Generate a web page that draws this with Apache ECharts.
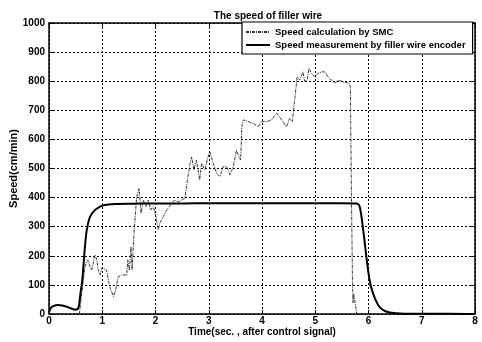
<!DOCTYPE html>
<html>
<head>
<meta charset="utf-8">
<script src="https://cdn.jsdelivr.net/npm/echarts@6/dist/echarts.min.js"></script>
<style>html,body{margin:0;padding:0;background:#fff}#c{width:482px;height:342px}</style>
</head>
<body>
<div id="c"></div>
<script>
const titleText = "The speed of filler wire";
const xName = "Time(sec. , after control signal)";
const yName = "Speed(cm/min)";
const seriesNames = ["Speed calculation by SMC", "Speed measurement by filler wire encoder"];

const smcTime = [0,0.57,0.675,0.73,0.77,0.80,0.83,0.86,0.895,0.925,0.96,0.99,1.08,1.14,1.21,1.25,1.30,1.36,1.46,1.48,1.51,1.54,1.56,1.60,1.645,1.69,1.73,1.77,1.82,1.865,1.91,1.96,2.01,2.05,2.08,2.145,2.21,2.26,2.30,2.36,2.43,2.49,2.55,2.61,2.65,2.68,2.72,2.77,2.83,2.865,2.93,2.97,3.02,3.08,3.15,3.21,3.27,3.34,3.40,3.46,3.52,3.57,3.60,3.62,3.65,3.74,3.835,3.93,3.99,4.085,4.18,4.275,4.37,4.46,4.52,4.57,4.62,4.66,4.71,4.77,4.80,4.85,4.88,4.93,4.99,5.05,5.12,5.18,5.24,5.30,5.37,5.43,5.46,5.52,5.585,5.635,5.66,5.68,5.70,5.71,5.72,5.74,5.76,5.78,8];
const smcSpeed = [0,0,163,186,163,151,174,203,189,151,134,158,151,94,60,82,128,134,134,186,150,231,151,289,400,432,346,392,369,392,357,369,334,289,312,334,357,369,380,392,385,392,398,472,518,540,495,529,460,518,495,529,558,520,483,472,506,506,478,506,563,540,529,643,667,661,655,643,661,661,667,690,667,643,672,661,747,815,804,832,800,804,844,827,815,827,832,832,815,804,793,804,806,798,795,793,780,400,100,38,70,50,25,0,0];

const encTime = [0,0.03,0.08,0.17,0.25,0.33,0.42,0.49,0.55,0.59,0.625,0.675,0.71,0.77,0.86,0.95,1.02,1.24,1.6,2.0,2.5,3.0,3.5,4.0,4.5,5.0,5.5,5.78,5.835,5.90,5.96,6.02,6.085,6.18,6.27,6.4,6.6,7.0,7.5,8.0];
const encSpeed = [5,20,27,31,29,25,19,15,20,70,117,231,289,334,357,368,374,378,379,380,380,381,381,381,381,381,381,380,369,289,197,117,71,31,14,5,2,1,1,0];

const zip = (a, b) => a.map((v, i) => [v, b[i]]);
const font = "Liberation Sans, Arial, sans-serif";
const gridStyle = {color: '#000', type: [2, 2], width: 1};

const chart = echarts.init(document.getElementById('c'), null, {renderer: 'canvas'});
chart.setOption({
  animation: false,
  backgroundColor: '#fff',
  title: {
    text: titleText, left: 263, top: 6, textAlign: 'center',
    textStyle: {fontFamily: font, fontSize: 10, fontWeight: 'bold', color: '#000'}
  },
  legend: {
    orient: 'vertical', left: 242, top: 22,
    padding: [5, 7, 4, 3], itemGap: 3, itemWidth: 24, itemHeight: 2,
    backgroundColor: '#fff', borderColor: '#000', borderWidth: 1.2,
    itemStyle: {opacity: 0},
    textStyle: {fontFamily: font, fontSize: 9.5, fontWeight: 'bold', color: '#000'},
    data: seriesNames
  },
  grid: {left: 49, right: 7, top: 23, bottom: 28, containLabel: false, outerBoundsMode: 'none'},
  xAxis: [{
    type: 'value', min: 0, max: 8, interval: 1,
    name: xName, nameLocation: 'middle', nameGap: 13, nameMoveOverlap: false,
    nameTextStyle: {fontFamily: font, fontSize: 10, fontWeight: 'bold', color: '#000'},
    axisLine: {lineStyle: {color: '#000', width: 1.5}},
    axisTick: {inside: true, length: 4, lineStyle: {color: '#000'}},
    axisLabel: {fontFamily: font, fontSize: 10, fontWeight: 'bold', color: '#000', margin: 2},
    splitLine: {show: true, lineStyle: gridStyle}
  }, {
    type: 'value', min: 0, max: 8, interval: 1, position: 'top',
    axisLine: {onZero: false, lineStyle: {color: '#000', width: 1.5}},
    axisTick: {inside: true, length: 4, lineStyle: {color: '#000'}},
    axisLabel: {show: false}, splitLine: {show: false}
  }],
  yAxis: [{
    type: 'value', min: 0, max: 1000, interval: 100,
    name: yName, nameLocation: 'middle', nameGap: 30, nameMoveOverlap: false,
    nameTextStyle: {fontFamily: font, fontSize: 11, fontWeight: 'bold', color: '#000'},
    axisLine: {show: true, lineStyle: {color: '#000', width: 1.5}},
    axisTick: {show: true, inside: true, length: 4, lineStyle: {color: '#000'}},
    axisLabel: {fontFamily: font, fontSize: 10, fontWeight: 'bold', color: '#000', margin: 4,
      formatter: v => String(v)},
    splitLine: {show: true, lineStyle: gridStyle}
  }, {
    type: 'value', min: 0, max: 1000, interval: 100, position: 'right',
    axisLine: {show: true, onZero: false, lineStyle: {color: '#000', width: 1.5}},
    axisTick: {show: true, inside: true, length: 4, lineStyle: {color: '#000'}},
    axisLabel: {show: false}, splitLine: {show: false}
  }],
  series: [{
    name: seriesNames[0], type: 'line', symbol: 'none',
    data: zip(smcTime, smcSpeed),
    lineStyle: {color: '#333', width: 1, type: [3, 1, 1, 1]},
    itemStyle: {color: '#333'}
  }, {
    name: seriesNames[1], type: 'line', symbol: 'none', smooth: 0.3,
    data: zip(encTime, encSpeed),
    lineStyle: {color: '#000', width: 2},
    itemStyle: {color: '#000'}
  }]
});
</script>
</body>
</html>
